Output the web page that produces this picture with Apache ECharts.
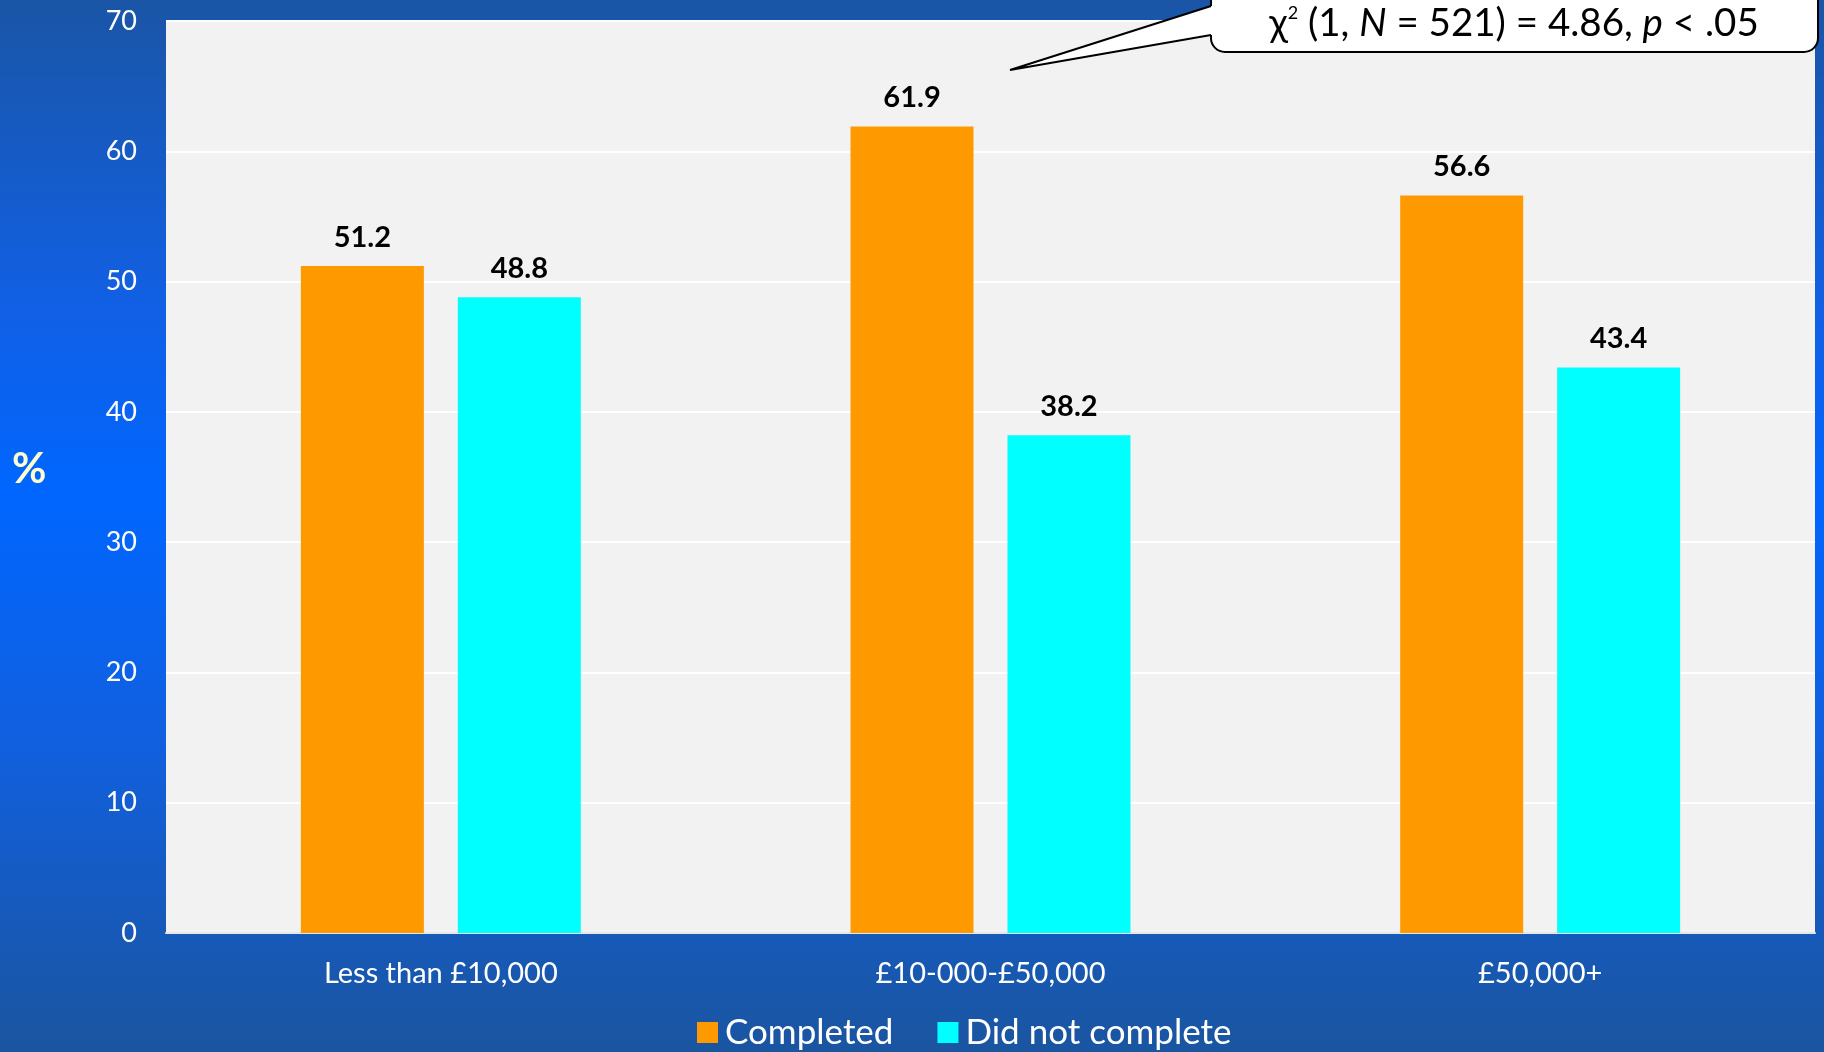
<!DOCTYPE html>
<html>
<head>
<meta charset="utf-8">
<script src="https://cdn.jsdelivr.net/npm/echarts@6/dist/echarts.min.js"></script>
<style>
html,body{margin:0;padding:0;width:1824px;height:1052px;overflow:hidden;}
#c{width:1824px;height:1052px;background:linear-gradient(to bottom,#1a55a6 0%,#1160e6 30%,#0066ff 47%,#1160e0 70%,#1a55a0 100%);}
</style>
</head>
<body>
<div id="c"></div>
<script>
var categories = ['Less than £10,000', '£10-000-£50,000', '£50,000+'];
var completed = [51.2, 61.9, 56.6];
var notCompleted = [48.8, 38.2, 43.4];
var seriesNames = ['Completed', 'Did not complete'];
var yTicks = {min: 0, max: 70, interval: 10};

var FONT = 'Lato';
var chart = echarts.init(document.getElementById('c'));
var labelCfg = {show: true, position: 'top', distance: 14, color: '#000', fontWeight: 'bold', fontSize: 29, fontFamily: FONT};
chart.setOption({
  backgroundColor: 'transparent',
  textStyle: {fontFamily: FONT},
  grid: {left: 166, right: 9, top: 21, bottom: 119, show: true, backgroundColor: '#f2f2f2', borderWidth: 0, outerBoundsMode: 'none'},
  legend: {
    left: 692, top: 1010, itemWidth: 21, itemHeight: 21, itemGap: 44,
    icon: 'rect',
    textStyle: {color: '#fff', fontSize: 35, fontFamily: FONT, padding: [0,0,0,2]},
    data: seriesNames
  },
  xAxis: {
    type: 'category', data: categories,
    axisLine: {show: true, lineStyle: {color: '#e6e6e6', width: 2}},
    axisTick: {show: false},
    axisLabel: {color: '#fff', fontSize: 29, fontFamily: FONT, margin: 26}
  },
  yAxis: {
    type: 'value', min: yTicks.min, max: yTicks.max, interval: yTicks.interval,
    axisLine: {show: false}, axisTick: {show: false},
    axisLabel: {color: '#fff', fontSize: 27, fontFamily: FONT, margin: 29},
    splitLine: {show: true, lineStyle: {color: '#ffffff', width: 2}}
  },
  series: [
    {name: seriesNames[0], type: 'bar', data: completed, barWidth: 123, barGap: '27.6%', itemStyle: {color: '#ff9900'}, label: labelCfg},
    {name: seriesNames[1], type: 'bar', data: notCompleted, barWidth: 123, itemStyle: {color: '#00ffff'}, label: labelCfg}
  ],
  graphic: [
    {type: 'text', left: 12, top: 448, style: {text: '%', fill: '#ffffcc', font: 'bold 42px ' + FONT}},
    {type: 'rect', shape: {x: 1211, y: -30, width: 607, height: 82, r: 14}, style: {fill: '#fff', stroke: '#000', lineWidth: 2}, z: 100},
    {type: 'polygon', shape: {points: [[1010, 70], [1211, 6], [1216, 6], [1216, 35], [1211, 35]]}, style: {fill: '#fff'}, z: 101},
    {type: 'polyline', shape: {points: [[1211, 6], [1010, 70], [1211, 35]]}, style: {stroke: '#000', lineWidth: 2, fill: null}, z: 102},
    {type: 'text', x: 1514, y: 24, z: 103, style: {
      text: '{n|χ}{s|2}{n| (1, }{i|N}{n| = 521) = 4.86, }{i|p}{n| < .05}',
      align: 'center', verticalAlign: 'middle',
      rich: {
        n: {fontSize: 38.5, fontFamily: FONT, fill: '#000'},
        i: {fontSize: 38.5, fontFamily: FONT, fontStyle: 'italic', fill: '#000'},
        s: {fontSize: 18, fontFamily: FONT, fill: '#000', verticalAlign: 'top', padding: [0,0,22,0]}
      }
    }}
  ]
});
</script>
</body>
</html>
